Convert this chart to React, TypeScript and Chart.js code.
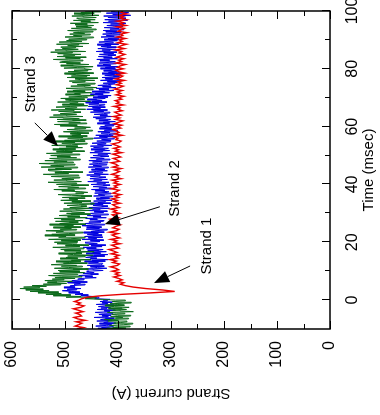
import React, { useEffect, useRef } from 'react';
import { Chart, registerables } from 'chart.js';

Chart.register(...registerables);

const FONT = "'Liberation Sans', Arial, Helvetica, sans-serif";

// sampling of the traces: time (msec) of first sample and spacing
const T_START = -10;
const STEP_STRAND1 = 0.5;
const STEP_STRAND23 = 0.25;

// Strand 1 (red) current, A  (every 0.5 msec)
const strand1 = [
  478, 465, 481, 474, 468, 479, 462, 476, 483, 469,
  472, 480, 466, 475, 484, 470, 464, 477, 471, 482,
  474, 468, 458, 432, 392, 338, 293, 316, 348, 371,
  386, 396, 389, 402, 392, 399, 408, 396, 405, 398,
  411, 399, 404, 414, 401, 397, 410, 403, 415, 400,
  406, 398, 413, 402, 409, 417, 399, 405, 412, 396,
  408, 402, 414, 397, 405, 411, 400, 416, 403, 398,
  410, 404, 396, 412, 401, 407, 415, 399, 406, 411,
  397, 409, 403, 414, 398, 405, 410, 396, 408, 401,
  412, 399, 406, 395, 410, 403, 398, 413, 402, 407,
  396, 408, 401, 411, 394, 405, 399, 412, 403, 397,
  406, 394, 410, 400, 404, 413, 397, 402, 409, 395,
  401, 410, 393, 405, 399, 408, 396, 403, 411, 398,
  394, 404, 400, 409, 392, 406, 398, 403, 410, 395,
  402, 393, 407, 399, 391, 405, 397, 409, 394, 401,
  406, 392, 400, 396, 408, 390, 403, 398, 405, 393,
  399, 389, 404, 395, 401, 392, 407, 397, 390, 403,
  394, 400, 388, 405, 396, 391, 402, 387, 399, 404,
  390, 401, 396, 386, 404, 393, 399, 389, 403, 395,
  387, 398, 393, 405, 388, 400, 394, 384, 401, 392,
  398, 386, 402, 391, 395, 383, 400, 394, 388, 403,
  385, 397, 390, 402, 384, 396, 389, 399, 383, 394,
  391,
];

// Strand 2 (blue) current, A  (every 0.25 msec)
const strand2 = [
  438, 416, 431, 409, 442, 422, 412, 435, 404, 427,
  419, 440, 411, 433, 424, 407, 445, 418, 430, 413,
  436, 410, 428, 443, 415, 426, 405, 439, 421, 432,
  414, 437, 423, 408, 441, 419, 430, 411, 434, 420,
  428, 415, 444, 436, 458, 447, 470, 456, 481, 466,
  493, 472, 488, 505, 478, 496, 470, 502, 481, 491,
  490, 462, 483, 471, 495, 458, 479, 487, 464, 476,
  470, 441, 462, 448, 474, 452, 437, 466, 445, 459,
  455, 428, 447, 461, 421, 439, 452, 426, 458, 433,
  429, 456, 437, 463, 424, 449, 418, 452, 440, 461,
  452, 425, 446, 419, 460, 433, 448, 422, 457, 436,
  428, 459, 441, 466, 430, 451, 423, 455, 439, 462,
  461, 434, 452, 427, 468, 440, 456, 429, 463, 448,
  430, 458, 437, 465, 426, 451, 444, 420, 460, 435,
  459, 431, 449, 468, 425, 446, 462, 433, 455, 428,
  426, 453, 439, 461, 422, 447, 432, 458, 418, 444,
  452, 427, 445, 420, 459, 434, 448, 416, 455, 431,
  419, 447, 428, 452, 414, 438, 424, 446, 411, 435,
  441, 416, 433, 410, 446, 425, 437, 413, 444, 420,
  417, 443, 425, 450, 412, 436, 421, 447, 428, 415,
  451, 424, 440, 417, 457, 431, 446, 420, 453, 435,
  423, 452, 434, 459, 418, 445, 429, 455, 441, 420,
  450, 425, 443, 418, 456, 431, 447, 421, 454, 437,
  419, 448, 430, 455, 415, 441, 426, 452, 433, 417,
  447, 420, 438, 414, 453, 429, 444, 416, 451, 425,
  418, 446, 428, 452, 412, 439, 423, 449, 430, 414,
  440, 413, 431, 407, 446, 420, 435, 409, 442, 418,
  404, 432, 415, 438, 401, 426, 410, 435, 412, 424,
  433, 408, 425, 402, 439, 416, 428, 405, 436, 419,
  414, 442, 423, 447, 410, 434, 420, 445, 427, 415,
  452, 427, 446, 420, 459, 433, 448, 424, 456, 437,
  425, 455, 436, 461, 421, 449, 430, 458, 440, 424,
  447, 419, 438, 413, 452, 428, 443, 416, 449, 425,
  408, 436, 417, 441, 404, 429, 413, 438, 420, 406,
  428, 401, 420, 396, 433, 410, 424, 398, 430, 409,
  397, 425, 406, 430, 393, 418, 402, 427, 412, 395,
  433, 405, 424, 400, 439, 414, 428, 403, 436, 416,
  405, 434, 416, 440, 401, 427, 411, 437, 419, 404,
  435, 408, 427, 402, 441, 415, 430, 404, 438, 421,
  403, 432, 413, 439, 399, 425, 409, 436, 417, 401,
  426, 398, 419, 393, 432, 407, 422, 396, 429, 410,
  394, 423, 402, 428, 389, 415, 398, 426, 405, 391,
  421, 390, 414, 385, 428, 401, 418, 382, 425, 397,
  385, 419, 394, 427, 376, 410, 389, 422, 380, 413,
  405,
];

// Strand 3 (green) current, A  (every 0.25 msec)
const strand3 = [
  421, 385, 410, 377, 402, 416, 389, 372, 408, 395,
  383, 419, 399, 426, 380, 405, 391, 414, 376, 401,
  412, 387, 403, 420, 371, 396, 410, 384, 418, 392,
  379, 407, 424, 388, 401, 415, 375, 398, 411, 386,
  405, 430, 462, 441, 498, 470, 522, 489, 536, 507,
  551, 512, 566, 530, 574, 541, 585, 548, 578, 535,
  562, 508, 541, 497, 533, 515, 486, 538, 502, 524,
  481, 519, 468, 506, 531, 476, 498, 522, 463, 510,
  472, 513, 485, 456, 520, 494, 467, 507, 478, 526,
  503, 458, 492, 517, 470, 488, 451, 509, 476, 498,
  462, 495, 447, 484, 512, 468, 479, 445, 501, 470,
  508, 464, 491, 523, 472, 499, 455, 486, 515, 477,
  520, 476, 507, 470, 531, 489, 462, 512, 498, 538,
  481, 525, 494, 466, 517, 503, 536, 478, 509, 488,
  522, 470, 501, 484, 529, 461, 510, 492, 475, 518,
  466, 507, 481, 520, 458, 495, 472, 511, 489, 452,
  497, 463, 488, 510, 454, 479, 503, 448, 491, 470,
  459, 496, 474, 445, 502, 468, 487, 451, 508, 476,
  492, 462, 505, 470, 449, 488, 513, 465, 480, 457,
  470, 506, 482, 521, 461, 495, 474, 512, 488, 455,
  516, 478, 503, 532, 469, 497, 521, 483, 506, 472,
  487, 526, 474, 510, 541, 493, 519, 466, 505, 530,
  532, 488, 518, 476, 545, 502, 527, 481, 513, 549,
  484, 521, 496, 538, 471, 509, 529, 478, 515, 490,
  527, 472, 508, 535, 486, 516, 463, 501, 523, 480,
  511, 467, 498, 476, 525, 488, 458, 506, 481, 517,
  462, 501, 473, 447, 495, 466, 512, 458, 487, 470,
  490, 455, 479, 503, 448, 474, 496, 461, 482, 452,
  468, 509, 477, 520, 459, 493, 471, 514, 486, 460,
  515, 473, 504, 529, 466, 497, 522, 478, 509, 484,
  470, 512, 483, 526, 461, 500, 478, 517, 489, 457,
  505, 464, 491, 476, 514, 452, 487, 499, 463, 508,
  458, 493, 467, 445, 499, 471, 482, 450, 496, 462,
  485, 447, 474, 498, 440, 463, 489, 452, 477, 443,
  451, 486, 462, 492, 444, 470, 481, 438, 496, 459,
  488, 453, 479, 501, 446, 468, 494, 457, 483, 450,
  463, 502, 476, 447, 508, 484, 455, 497, 471, 510,
  506, 466, 493, 522, 471, 499, 460, 515, 482, 503,
  470, 514, 486, 527, 461, 498, 519, 475, 505, 480,
  508, 466, 495, 474, 516, 455, 489, 511, 468, 497,
  459, 493, 470, 446, 500, 468, 484, 452, 491, 463,
  484, 447, 473, 495, 441, 466, 488, 450, 479, 457,
  446, 481, 458, 490, 437, 470, 452, 484, 443, 475,
  478, 441, 466, 487, 436, 462, 483, 445, 470, 432,
  462,
];

const timeTicks = [0, 20, 40, 60, 80, 100];
const timeMinorTicks = [10, 30, 50, 70, 90];
const currentTicks = [0, 100, 200, 300, 400, 500, 600];
const currentMinorTicks = [50, 150, 250, 350, 450, 550];

// annotations (data coordinates: time msec, current A)
const annText = ['Strand 1', 'Strand 2', 'Strand 3'];
const annTextT = [18.7, 38.6, 74.7];
const annTextI = [233, 293, 565];
const annFromT = [11.8, 32.3, 61.3];
const annFromI = [264, 321, 557];
const annToT = [5.9, 26.3, 53.3];
const annToI = [332, 425, 513];

const toPoints = (arr: number[], step: number) => arr.map((v, i) => ({ x: T_START + i * step, y: v }));

const framePlugin = {
  id: 'frameTicks',
  afterDatasetsDraw(chart: any) {
    const { ctx, chartArea: a, scales } = chart;
    const xs = scales.x;
    const ys = scales.y;
    ctx.save();
    ctx.strokeStyle = '#000';
    ctx.lineWidth = 1;
    ctx.beginPath();
    const vt = (vals: number[], len: number) => {
      vals.forEach((v) => {
        const px = Math.round(xs.getPixelForValue(v)) + 0.5;
        ctx.moveTo(px, a.bottom);
        ctx.lineTo(px, a.bottom - len);
        ctx.moveTo(px, a.top);
        ctx.lineTo(px, a.top + len);
      });
    };
    const ht = (vals: number[], len: number) => {
      vals.forEach((v) => {
        const py = Math.round(ys.getPixelForValue(v)) + 0.5;
        ctx.moveTo(a.left, py);
        ctx.lineTo(a.left + len, py);
        ctx.moveTo(a.right, py);
        ctx.lineTo(a.right - len, py);
      });
    };
    vt(timeTicks, 8);
    vt(timeMinorTicks, 5);
    ht(currentTicks, 8);
    ht(currentMinorTicks, 5);
    ctx.stroke();
    ctx.lineWidth = 1.5;
    ctx.strokeRect(a.left, a.top, a.right - a.left, a.bottom - a.top);

    // annotations
    ctx.fillStyle = '#000';
    ctx.font = `15px ${FONT}`;
    ctx.textAlign = 'center';
    ctx.textBaseline = 'middle';
    annText.forEach((txt, i) => {
      ctx.fillText(txt, xs.getPixelForValue(annTextT[i]), ys.getPixelForValue(annTextI[i]));
      const fx = xs.getPixelForValue(annFromT[i]);
      const fy = ys.getPixelForValue(annFromI[i]);
      const tx = xs.getPixelForValue(annToT[i]);
      const ty = ys.getPixelForValue(annToI[i]);
      const ang = Math.atan2(ty - fy, tx - fx);
      const L = 15;
      const W = 6;
      const bx = tx - L * Math.cos(ang);
      const by = ty - L * Math.sin(ang);
      ctx.lineWidth = 1;
      ctx.beginPath();
      ctx.moveTo(fx, fy);
      ctx.lineTo(bx, by);
      ctx.stroke();
      ctx.beginPath();
      ctx.moveTo(tx, ty);
      ctx.lineTo(bx - W * Math.sin(ang), by + W * Math.cos(ang));
      ctx.lineTo(bx + W * Math.sin(ang), by - W * Math.cos(ang));
      ctx.closePath();
      ctx.fill();
    });
    ctx.restore();
  },
};

export default function App() {
  const ref = useRef<HTMLCanvasElement | null>(null);

  useEffect(() => {
    if (!ref.current) return;
    const line = (data: number[], step: number, color: string, width: number) => ({
      data: toPoints(data, step),
      borderColor: color,
      backgroundColor: color,
      borderWidth: width,
      pointRadius: 0,
      tension: 0,
      fill: false,
    });
    const chart = new Chart(ref.current, {
      type: 'line',
      data: {
        datasets: [
          line(strand1, STEP_STRAND1, '#e60000', 1.4),
          line(strand3, STEP_STRAND23, '#0b6a1a', 1),
          line(strand2, STEP_STRAND23, '#0000e0', 1),
        ],
      },
      options: {
        animation: false,
        responsive: false,
        devicePixelRatio: 1,
        layout: { padding: { top: 12, right: 11, left: 0, bottom: 0 } },
        plugins: { legend: { display: false }, tooltip: { enabled: false } },
        scales: {
          x: {
            type: 'linear',
            min: -10,
            max: 100,
            grid: { display: false, drawTicks: false },
            border: { display: false },
            ticks: { font: { family: FONT, size: 16 }, color: '#000', padding: 13, maxRotation: 0, autoSkip: false },
            afterBuildTicks: (s: any) => {
              s.ticks = timeTicks.map((v) => ({ value: v }));
            },
            afterFit: (s: any) => {
              s.height = 50;
              s.paddingLeft = 0;
              s.paddingRight = 0;
            },
            title: {
              display: true,
              text: 'Time (msec)',
              font: { family: FONT, size: 15 },
              color: '#000',
              padding: { top: 0, bottom: 2 },
            },
          },
          y: {
            type: 'linear',
            min: 0,
            max: 600,
            grid: { display: false, drawTicks: false },
            border: { display: false },
            ticks: { font: { family: FONT, size: 16 }, color: '#000', padding: 12, autoSkip: false },
            afterBuildTicks: (s: any) => {
              s.ticks = currentTicks.map((v) => ({ value: v }));
            },
            afterFit: (s: any) => {
              s.width = 86;
              s.paddingTop = 0;
              s.paddingBottom = 0;
            },
            title: {
              display: true,
              text: 'Strand current (A)',
              font: { family: FONT, size: 15 },
              color: '#000',
              padding: { top: 13, bottom: 0 },
            },
          },
        },
      },
      plugins: [framePlugin],
    } as any);
    return () => chart.destroy();
  }, []);

  return (
    <div style={{ position: 'fixed', left: 0, top: 0, width: 380, height: 415, overflow: 'hidden', background: '#fff' }}>
      <div
        style={{
          position: 'absolute',
          left: 0,
          top: 0,
          width: 415,
          height: 380,
          transformOrigin: '0 0',
          transform: 'translateY(415px) rotate(-90deg)',
        }}
      >
        <canvas ref={ref} width={415} height={380} style={{ display: 'block' }} />
      </div>
    </div>
  );
}
